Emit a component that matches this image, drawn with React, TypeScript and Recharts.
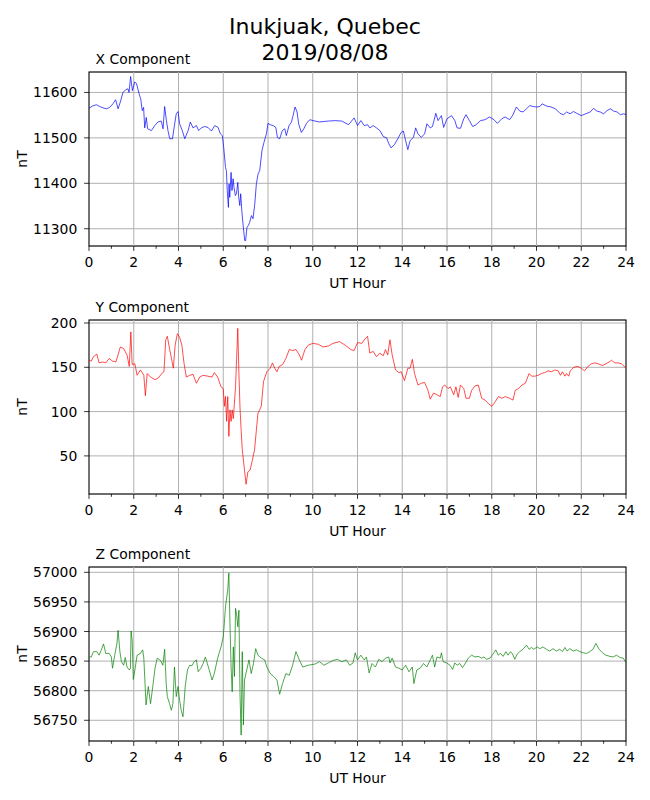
import {
  CartesianGrid,
  Label,
  Line,
  LineChart,
  ReferenceArea,
  ReferenceLine,
  XAxis,
  YAxis,
} from 'recharts';

const FONT = "'DejaVu Sans', sans-serif";

const TITLE_LINES = ['Inukjuak, Quebec', '2019/08/08'];
const HOUR_TICKS = [0, 1, 2, 3, 4, 5, 6, 7, 8, 9, 10, 11, 12, 13, 14, 15, 16, 17, 18, 19, 20, 21, 22, 23, 24];
const GRID_HOURS = [2, 4, 6, 8, 10, 12, 14, 16, 18, 20, 22];

// X component (nT)
const X_HOURS = [
  0, 0.15, 0.33, 0.48, 0.63, 0.78, 0.92, 1.07, 1.19, 1.3,
  1.4, 1.52, 1.64, 1.74, 1.79, 1.86, 1.94, 2.04, 2.12, 2.24,
  2.31, 2.38, 2.44, 2.49, 2.56, 2.62, 2.79, 2.94, 3.08, 3.23,
  3.31, 3.38, 3.46, 3.53, 3.61, 3.73, 3.83, 3.9, 3.98, 4.05,
  4.17, 4.28, 4.43, 4.53, 4.65, 4.8, 4.9, 5.02, 5.17, 5.32,
  5.47, 5.62, 5.77, 5.87, 5.96, 6.02, 6.1, 6.14, 6.18, 6.23,
  6.26, 6.29, 6.35, 6.39, 6.44, 6.48, 6.54, 6.59, 6.65, 6.69,
  6.74, 6.78, 6.84, 6.89, 6.96, 7.0, 7.06, 7.12, 7.18, 7.26,
  7.33, 7.41, 7.48, 7.56, 7.63, 7.73, 7.82, 7.93, 8.0, 8.1,
  8.23, 8.35, 8.42, 8.52, 8.64, 8.75, 8.82, 8.94, 9.05, 9.12,
  9.21, 9.3, 9.37, 9.49, 9.6, 9.72, 9.87, 10.01, 10.3, 10.69,
  11.0, 11.3, 11.6, 11.85, 12.0, 12.15, 12.3, 12.45, 12.55, 12.7,
  12.85, 13.0, 13.15, 13.3, 13.4, 13.5, 13.65, 13.8, 13.95, 14.05,
  14.15, 14.25, 14.35, 14.5, 14.6, 14.7, 14.85, 15.0, 15.1, 15.25,
  15.35, 15.5, 15.6, 15.75, 15.85, 16.0, 16.2, 16.35, 16.45, 16.6,
  16.75, 16.85, 17.0, 17.15, 17.3, 17.5, 17.7, 17.9, 18.1, 18.25,
  18.45, 18.6, 18.8, 18.95, 19.1, 19.25, 19.4, 19.55, 19.7, 19.85,
  20.0, 20.15, 20.25, 20.45, 20.65, 20.85, 21.05, 21.2, 21.35, 21.5,
  21.65, 21.8, 22.0, 22.2, 22.4, 22.55, 22.7, 22.85, 23.0, 23.15,
  23.3, 23.45, 23.6, 23.75, 23.9, 24.0,
];
const X_VALUES = [
  11565, 11570, 11573, 11569, 11566, 11564, 11567, 11575, 11584, 11564,
  11579, 11600, 11606, 11608, 11600, 11635, 11604, 11623, 11620, 11597,
  11586, 11560, 11567, 11522, 11545, 11520, 11516, 11527, 11535, 11537,
  11520, 11569, 11538, 11516, 11498, 11498, 11531, 11553, 11558, 11531,
  11516, 11498, 11516, 11535, 11522, 11527, 11516, 11522, 11525, 11523,
  11515, 11527, 11523, 11509, 11505, 11479, 11435, 11428, 11384, 11347,
  11399, 11369, 11424, 11384, 11410, 11391, 11373, 11377, 11402, 11369,
  11351, 11377, 11333, 11307, 11274, 11274, 11303, 11307, 11314, 11329,
  11322, 11355, 11399, 11421, 11428, 11472, 11490, 11509, 11532, 11529,
  11527, 11523, 11501, 11498, 11516, 11520, 11505, 11527, 11535, 11549,
  11568, 11557, 11531, 11512, 11520, 11532, 11540, 11538, 11535, 11537,
  11538, 11537, 11529, 11544, 11527, 11538, 11527, 11529, 11522, 11527,
  11522, 11516, 11503, 11500, 11487, 11478, 11485, 11498, 11512, 11515,
  11494, 11474, 11494, 11501, 11522, 11509, 11501, 11509, 11531, 11522,
  11525, 11554, 11538, 11549, 11523, 11542, 11549, 11538, 11522, 11521,
  11542, 11551, 11538, 11525, 11529, 11538, 11540, 11546, 11540, 11532,
  11542, 11546, 11540, 11551, 11568, 11559, 11557, 11564, 11571, 11569,
  11568, 11569, 11575, 11570, 11568, 11564, 11554, 11551, 11557, 11553,
  11558, 11554, 11549, 11553, 11557, 11565, 11559, 11557, 11553, 11560,
  11564, 11559, 11557, 11551, 11553, 11551,
];
const X_TICKS = [11300, 11400, 11500, 11600];

// Y component (nT)
const Y_HOURS = [
  0, 0.1, 0.2, 0.35, 0.45, 0.6, 0.75, 0.9, 1.05, 1.2,
  1.3, 1.4, 1.55, 1.7, 1.8, 1.87, 1.93, 2.05, 2.15, 2.3,
  2.45, 2.52, 2.6, 2.75, 2.95, 3.1, 3.25, 3.35, 3.43, 3.5,
  3.6, 3.7, 3.77, 3.85, 3.95, 4.05, 4.15, 4.25, 4.35, 4.5,
  4.65, 4.8, 4.95, 5.1, 5.3, 5.5, 5.6, 5.75, 5.9, 6.0,
  6.05, 6.1, 6.15, 6.2, 6.25, 6.3, 6.35, 6.4, 6.45, 6.55,
  6.6, 6.65, 6.7, 6.75, 6.8, 6.85, 6.95, 7.02, 7.1, 7.2,
  7.3, 7.4, 7.48, 7.55, 7.7, 7.8, 7.95, 8.1, 8.2, 8.3,
  8.4, 8.5, 8.65, 8.8, 8.95, 9.1, 9.25, 9.4, 9.5, 9.65,
  9.8, 10.0, 10.25, 10.45, 10.7, 10.9, 11.2, 11.45, 11.7, 11.85,
  12.0, 12.2, 12.3, 12.45, 12.55, 12.7, 12.85, 13.0, 13.15, 13.25,
  13.35, 13.45, 13.55, 13.7, 13.85, 13.95, 14.1, 14.25, 14.35, 14.45,
  14.55, 14.7, 14.85, 15.0, 15.15, 15.25, 15.4, 15.55, 15.7, 15.8,
  15.9, 16.05, 16.15, 16.3, 16.4, 16.5, 16.6, 16.75, 16.85, 17.0,
  17.1, 17.25, 17.4, 17.55, 17.7, 17.85, 18.0, 18.15, 18.3, 18.45,
  18.6, 18.8, 18.95, 19.05, 19.2, 19.35, 19.5,
  19.67, 19.78, 19.93, 20.07, 20.22, 20.37, 20.52, 20.67, 20.82, 20.97,
  21.07, 21.16, 21.27, 21.34, 21.44, 21.51, 21.66,
  21.85, 22.0, 22.15, 22.3, 22.45, 22.6, 22.75, 22.95, 23.1, 23.25,
  23.35, 23.5, 23.65, 23.8, 24.0,
];
const Y_VALUES = [
  158, 157, 162, 165, 155, 156, 155, 160, 157, 156,
  164, 173, 171, 164, 151, 190, 153, 154, 141, 147,
  141, 118, 143, 139, 136, 138, 143, 145, 181, 185,
  171, 158, 149, 175, 188, 184, 175, 154, 139, 141,
  142, 132, 139, 141, 140, 139, 144, 139, 128, 126,
  106, 117, 89, 117, 72, 102, 89, 102, 92, 128,
  162, 194, 143, 104, 79, 57, 34, 18, 32, 34,
  45, 57, 79, 98, 106, 134, 145, 149, 155, 149,
  145, 151, 153, 160, 170, 169, 170, 164, 158, 170,
  175, 177, 176, 173, 174, 177, 179, 175, 170, 169,
  178, 177, 181, 185, 166, 168, 162, 166, 163, 170,
  164, 181, 164, 147, 144, 145, 135, 149, 149, 159,
  143, 130, 132, 133, 124, 114, 121, 119, 117, 128,
  130, 126, 128, 119, 128, 116, 130, 126, 115, 115,
  124, 129, 130, 115, 113, 109, 106, 111, 117, 115,
  117, 115, 113, 124, 126, 130, 132,
  143, 140, 140, 141, 143, 144, 146, 145, 147, 146,
  141, 145, 140, 143, 140, 146, 150,
  151, 149, 146, 151, 154, 155, 154, 152, 154, 156,
  158, 155, 155, 154, 149,
];
const Y_TICKS = [50, 100, 150, 200];

// Z component (nT)
const Z_HOURS = [
  0, 0.1, 0.2, 0.35, 0.45, 0.55, 0.65, 0.75, 0.9, 1.0,
  1.05, 1.15, 1.25, 1.3, 1.38, 1.45, 1.55, 1.62, 1.7, 1.8,
  1.85, 1.88, 1.93, 1.98, 2.05, 2.15, 2.3, 2.4, 2.45, 2.55,
  2.65, 2.75, 2.85, 2.95, 3.05, 3.2, 3.3, 3.38, 3.45, 3.5,
  3.6, 3.68, 3.75, 3.82, 3.9, 3.98, 4.05, 4.12, 4.2, 4.3,
  4.4, 4.5, 4.6, 4.7, 4.8, 4.88, 5.0, 5.1, 5.2, 5.35,
  5.5, 5.6, 5.75, 5.9, 6.0, 6.05, 6.1, 6.2, 6.25, 6.3,
  6.35, 6.4, 6.45, 6.5, 6.55, 6.6, 6.65, 6.7, 6.75, 6.8,
  6.85, 6.9, 6.95, 7.05, 7.15, 7.25, 7.35, 7.45, 7.55, 7.7,
  7.85, 7.95, 8.1, 8.25, 8.4, 8.52, 8.65, 8.8, 8.95, 9.1,
  9.25, 9.4, 9.55, 9.8, 10.1, 10.3, 10.5, 10.7, 10.9, 11.1,
  11.3, 11.5, 11.65, 11.8, 11.9, 12.0, 12.15, 12.3, 12.4, 12.52,
  12.65, 12.8, 12.95, 13.1, 13.25, 13.4, 13.45, 13.55, 13.7, 13.85,
  14.0, 14.15, 14.3, 14.45, 14.52, 14.65, 14.8, 14.95, 15.1, 15.25,
  15.35, 15.45, 15.55, 15.7,
  15.75, 15.83, 15.98, 16.13, 16.25, 16.35, 16.45, 16.57, 16.69, 16.8,
  16.95, 17.1, 17.25, 17.4, 17.55, 17.65, 17.77, 17.92, 18.06, 18.18,
  18.29, 18.39, 18.51, 18.63, 18.73, 18.84, 18.93, 19.03, 19.14, 19.25,
  19.4, 19.55, 19.67, 19.77, 19.88, 20.03, 20.15, 20.29, 20.44, 20.59,
  20.74, 20.89, 21.04, 21.16, 21.27, 21.37, 21.49, 21.64, 21.79, 21.94,
  22.09, 22.24, 22.38, 22.53, 22.65, 22.8, 22.95, 23.1, 23.28, 23.43,
  23.58, 23.73, 23.88, 24.0,
];
const Z_VALUES = [
  56857, 56857, 56866, 56866, 56860, 56869, 56879, 56863, 56863, 56857,
  56838, 56860, 56880, 56902, 56866, 56849, 56843, 56856, 56840, 56835,
  56838, 56901, 56885, 56819, 56835, 56860, 56863, 56869, 56855, 56776,
  56807, 56778, 56807, 56838, 56855, 56851, 56843, 56870, 56812, 56790,
  56778, 56767, 56778, 56840, 56790, 56807, 56784, 56767, 56756, 56807,
  56835, 56843, 56842, 56849, 56852, 56832, 56838, 56846, 56857, 56838,
  56818, 56829, 56855, 56874, 56891, 56914, 56942, 56970, 56999, 56914,
  56840, 56798, 56874, 56824, 56939, 56928, 56908, 56936, 56793, 56725,
  56866, 56742, 56818, 56835, 56852, 56829, 56846, 56871, 56860, 56855,
  56852, 56840, 56829, 56824, 56818, 56794, 56812, 56829, 56826, 56843,
  56866, 56852, 56840, 56843, 56845, 56849, 56843, 56847, 56851, 56853,
  56849, 56852, 56843, 56847, 56864, 56852, 56860, 56852, 56857, 56830,
  56846, 56840, 56853, 56849, 56855, 56857, 56847, 56855, 56840, 56838,
  56835, 56843, 56832, 56840, 56812, 56835, 56838, 56846, 56840, 56852,
  56860, 56840, 56857, 56855,
  56864, 56849, 56847, 56843, 56836, 56847, 56843, 56846, 56839, 56845,
  56855, 56860, 56857, 56858, 56855, 56857, 56853, 56855, 56862, 56869,
  56860, 56863, 56858, 56866, 56860, 56866, 56862, 56853, 56862, 56866,
  56870, 56877, 56870, 56873, 56870, 56874, 56871, 56874, 56870, 56867,
  56871, 56867, 56870, 56866, 56873, 56867, 56871, 56867, 56869, 56866,
  56864, 56863, 56866, 56870, 56880, 56870, 56864, 56860, 56858, 56857,
  56860, 56856, 56855, 56847,
];
const Z_TICKS = [56750, 56800, 56850, 56900, 56950, 57000];

const PANELS = [
  { title: 'X Component', hours: X_HOURS, values: X_VALUES, ticks: X_TICKS, domain: [11262, 11645], color: '#0000ff', top: 72 },
  { title: 'Y Component', hours: Y_HOURS, values: Y_VALUES, ticks: Y_TICKS, domain: [7, 203.4], color: '#ff0000', top: 320 },
  { title: 'Z Component', hours: Z_HOURS, values: Z_VALUES, ticks: Z_TICKS, domain: [56715, 57009], color: '#008000', top: 567 },
];

const PLOT_H = 174;
const MARGIN_TOP = 30;
const XAXIS_H = 48;
const YAXIS_W = 89;

function HourTick({ x, y, payload }: any) {
  const major = payload.value % 2 === 0;
  return (
    <g>
      <line x1={x} x2={x} y1={y} y2={y + (major ? 4.9 : 2.8)} stroke="#000" strokeWidth={0.8} />
      {major && (
        <text x={x} y={y + 21.3} textAnchor="middle" fontSize={13.9} fontFamily={FONT} fill="#000">
          {payload.value}
        </text>
      )}
    </g>
  );
}

function ValueTick({ x, y, payload }: any) {
  return (
    <g>
      <line x1={x - 4.9} x2={x} y1={y} y2={y} stroke="#000" strokeWidth={0.8} />
      <text x={x - 11.7} y={y + 5} textAnchor="end" fontSize={13.9} fontFamily={FONT} fill="#000">
        {payload.value}
      </text>
    </g>
  );
}

function Panel({ panel }: { panel: (typeof PANELS)[number] }) {
  const data = panel.hours.map((h, i) => ({ hour: h, value: panel.values[i] }));
  return (
    <div style={{ position: 'absolute', left: 0, top: panel.top - MARGIN_TOP }}>
      <LineChart
        width={650}
        height={MARGIN_TOP + PLOT_H + XAXIS_H}
        data={data}
        margin={{ top: MARGIN_TOP, right: 24, bottom: 0, left: 0 }}
      >
        <CartesianGrid vertical={false} stroke="#b0b0b0" strokeWidth={1} />
        {GRID_HOURS.map((h) => (
          <ReferenceLine key={h} x={h} stroke="#b0b0b0" strokeWidth={1} />
        ))}
        <XAxis
          dataKey="hour"
          type="number"
          domain={[0, 24]}
          ticks={HOUR_TICKS}
          interval={0}
          height={XAXIS_H}
          axisLine={false}
          tickLine={false}
          tickSize={0}
          tickMargin={0}
          tick={<HourTick />}
        >
          <Label
            content={({ viewBox }: any) => (
              <text
                x={viewBox.x + viewBox.width / 2}
                y={viewBox.y + 42}
                textAnchor="middle"
                fontSize={13.9}
                fontFamily={FONT}
                fill="#000"
              >
                UT Hour
              </text>
            )}
          />
        </XAxis>
        <YAxis
          type="number"
          domain={panel.domain}
          allowDataOverflow
          ticks={panel.ticks}
          interval={0}
          width={YAXIS_W}
          axisLine={false}
          tickLine={false}
          tickSize={0}
          tickMargin={0}
          tick={<ValueTick />}
        >
          <Label
            content={({ viewBox }: any) => (
              <text
                x={26.5}
                y={viewBox.y + viewBox.height / 2}
                transform={`rotate(-90 26.5 ${viewBox.y + viewBox.height / 2})`}
                textAnchor="middle"
                fontSize={13.9}
                fontFamily={FONT}
                fill="#000"
              >
                nT
              </text>
            )}
          />
          <Label
            content={({ viewBox }: any) => (
              <text x={95.5} y={viewBox.y - 8.4} fontSize={13.9} fontFamily={FONT} fill="#000">
                {panel.title}
              </text>
            )}
          />
        </YAxis>
        <Line
          type="linear"
          dataKey="value"
          stroke={panel.color}
          strokeWidth={0.7}
          dot={false}
          isAnimationActive={false}
        />
        <ReferenceArea
          x1={0}
          x2={24}
          y1={panel.domain[0]}
          y2={panel.domain[1]}
          fill="none"
          fillOpacity={0}
          stroke="#000"
          strokeWidth={1.1}
          strokeOpacity={1}
          ifOverflow="visible"
        />
      </LineChart>
    </div>
  );
}

export default function App() {
  return (
    <div style={{ position: 'absolute', left: 0, top: 0, width: 650, height: 800, background: '#fff' }}>
      <div
        style={{
          position: 'absolute',
          left: 0,
          top: 14,
          width: 650,
          textAlign: 'center',
          fontFamily: FONT,
          fontSize: 22,
          lineHeight: '26px',
          color: '#000',
        }}
      >
        {TITLE_LINES.map((t) => (
          <div key={t}>{t}</div>
        ))}
      </div>
      {PANELS.map((p) => (
        <Panel key={p.title} panel={p} />
      ))}
    </div>
  );
}
